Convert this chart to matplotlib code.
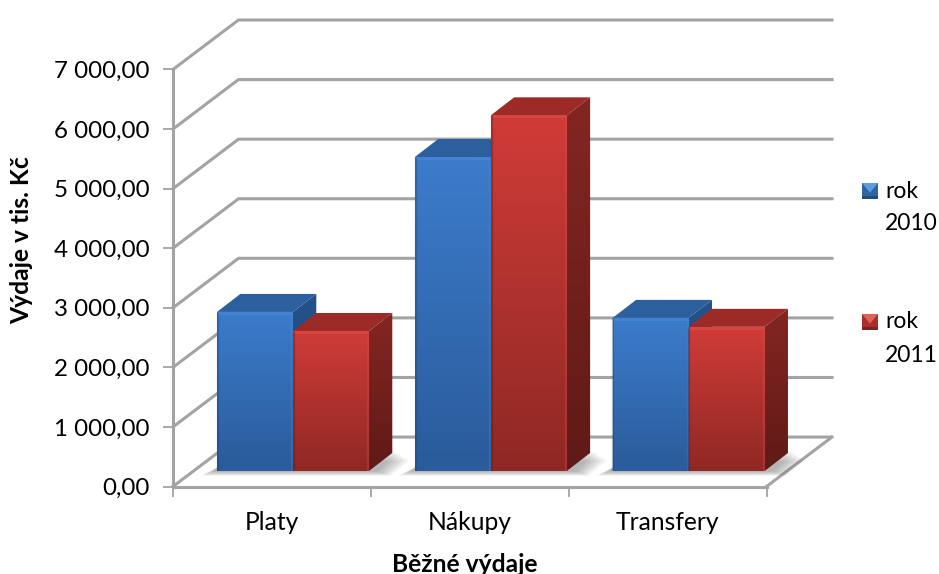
import numpy as np
import matplotlib
matplotlib.use("Agg")
import matplotlib.pyplot as plt
from matplotlib.colors import LinearSegmentedColormap
from matplotlib.patches import Polygon

plt.rcParams["font.family"] = ["Lato", "DejaVu Sans"]

categories = ["Platy", "Nákupy", "Transfery"]
rok_2010 = [2670, 5270, 2570]
rok_2011 = [2350, 5970, 2420]
y_ticks = [0, 1000, 2000, 3000, 4000, 5000, 6000, 7000]
y_labels = ["0,00", "1 000,00", "2 000,00", "3 000,00", "4 000,00", "5 000,00", "6 000,00", "7 000,00"]

W, H = 939, 574
GRID = "#a3a3a3"

# 3d box offsets in data units
DEPTH_X = 0.331
DEPTH_Y = 830
BAR_W = 0.384
BAR_DX = 0.118
BAR_DY = 302
BASE_Y = 260
BAR_START = 0.2224

fig = plt.figure(figsize=(W / 100, H / 100), dpi=100)
left, right, bottom, top = 173, 832, 486.5, 20
ax = fig.add_axes([left / W, 1 - bottom / H, (right - left) / W, (bottom - top) / H])
ax.set_xlim(0, 3 + DEPTH_X)
ax.set_ylim(0, 7000 + DEPTH_Y)


def fill(points, colors, z=3):
    # polygon filled with a vertical gradient, colors run top to bottom
    poly = Polygon(points, closed=True, fc="none", ec="none", zorder=z)
    ax.add_patch(poly)
    pts = np.array(points)
    cmap = LinearSegmentedColormap.from_list("g", colors)
    grad = np.linspace(0, 1, 128).reshape(-1, 1)
    im = ax.imshow(grad, cmap=cmap, aspect="auto", origin="upper", zorder=z,
                   extent=(pts[:, 0].min(), pts[:, 0].max(), pts[:, 1].min(), pts[:, 1].max()),
                   interpolation="bilinear")
    im.set_clip_path(poly)


def shadow(x0, x1):
    # soft shadow on the floor around the foot of each group
    for k in range(10):
        grow = 0.007 * k
        y0 = BASE_Y - 8 - 8 * k
        y1 = BASE_Y + BAR_DY + 20 - 16 * k
        pts = [(x0 - 0.02 - grow, y0), (x1 + BAR_DX * 0.4 + grow, y0),
               (x1 + BAR_DX * 1.2 + grow, y1), (x0, BASE_Y + 60)]
        ax.add_patch(Polygon(pts, closed=True, fc="#555555", ec="none", alpha=0.05, zorder=2))


def bar(x, value, front, roof, side, shine):
    y0 = BASE_Y
    y1 = BASE_Y + value
    x1 = x + BAR_W
    fill([(x1, y0), (x1 + BAR_DX, y0 + BAR_DY), (x1 + BAR_DX, y1 + BAR_DY), (x1, y1)], side, z=4)
    ax.add_patch(Polygon([(x, y1), (x + BAR_DX, y1 + BAR_DY), (x1 + BAR_DX, y1 + BAR_DY), (x1, y1)],
                         closed=True, fc=roof, ec="none", zorder=4))
    fill([(x, y0), (x1, y0), (x1, y1), (x, y1)], front, z=5)
    # bevel highlights along the front face
    ax.plot([x + 0.003, x1 - 0.003], [y1 - 14, y1 - 14], color=shine, lw=2.2, alpha=0.55,
            zorder=6, solid_capstyle="butt")
    ax.plot([x + 0.004, x + 0.004], [y0, y1 - 10], color=side[1], lw=1.6, alpha=0.4, zorder=6,
            solid_capstyle="butt")
    ax.plot([x1 - 0.004, x1 - 0.004], [y0, y1 - 10], color=shine, lw=1.6, alpha=0.3, zorder=6,
            solid_capstyle="butt")


# back wall gridlines and floor outline
for v in y_ticks:
    ax.plot([0, DEPTH_X, 3 + DEPTH_X], [v, v + DEPTH_Y, v + DEPTH_Y], color=GRID, lw=2.2, zorder=1,
            solid_joinstyle="miter", clip_on=False)
ax.plot([3, 3 + DEPTH_X], [0, DEPTH_Y], color=GRID, lw=2.2, zorder=1)

blue_front = ["#3c7ccb", "#2a5b9a"]
blue_side = ["#24528a", "#1e4474"]
red_front = ["#d03c38", "#8f2824"]
red_side = ["#842622", "#5f1a17"]

for i in range(len(categories)):
    x = i + BAR_START
    shadow(x, x + 2 * BAR_W)
    bar(x, rok_2010[i], blue_front, "#2c5f9e", blue_side, "#4a8bdc")
    bar(x + BAR_W, rok_2011[i], red_front, "#9c2b27", red_side, "#e0504a")

# axes
for name in ["top", "right"]:
    ax.spines[name].set_visible(False)
ax.patch.set_visible(False)
ax.spines["left"].set_bounds(0, 7000)
ax.spines["bottom"].set_bounds(0, 3)
for name in ["left", "bottom"]:
    ax.spines[name].set_color(GRID)
    ax.spines[name].set_linewidth(2.2)
    ax.spines[name].set_zorder(1)
ax.set_yticks(y_ticks, y_labels)
ax.set_xticks([0, 1, 2, 3], [])
ax.set_xticks([0.5, 1.5, 2.5], categories, minor=True)
ax.tick_params(axis="y", length=7, width=1.3, color=GRID, labelsize=17.4, pad=10, labelcolor="black")
ax.tick_params(axis="x", which="major", length=7, width=1.3, color=GRID)
ax.tick_params(axis="x", which="minor", length=0, labelsize=17.7, pad=18, labelcolor="black")

fig.text(22 / W, 1 - 240 / H, "Výdaje v tis. Kč", rotation=90, ha="center", va="center",
         fontsize=17.7, fontweight="bold")
fig.text(465 / W, 1 - 564 / H, "Běžné výdaje", ha="center", va="center",
         fontsize=17.7, fontweight="bold")

# legend swatches with a light top wedge
leg = fig.add_axes([0, 0, 1, 1])
leg.set_xlim(0, W)
leg.set_ylim(H, 0)
leg.axis("off")


def swatch(x, y, base, light, dark):
    s = 16
    leg.add_patch(Polygon([(x, y), (x + s, y), (x + s, y + s), (x, y + s)], fc=base, ec="none"))
    leg.add_patch(Polygon([(x, y), (x + s, y), (x + s / 2, y + s * 0.6)], fc=light, ec="none"))
    leg.add_patch(Polygon([(x, y + s), (x + s, y + s), (x + s, y + s - 3), (x, y + s - 3)], fc=dark, ec="none"))


swatch(862, 183, "#2f659f", "#5c9ce0", "#244c7c")
swatch(862, 314, "#ab302c", "#e0605a", "#7e2320")
for y, line in [(191, "rok"), (223, "2010"), (322, "rok"), (355, "2011")]:
    leg.text(885, y, line, ha="left", va="center", fontsize=16.5, color="black")

fig.savefig("out.png", dpi=100)
